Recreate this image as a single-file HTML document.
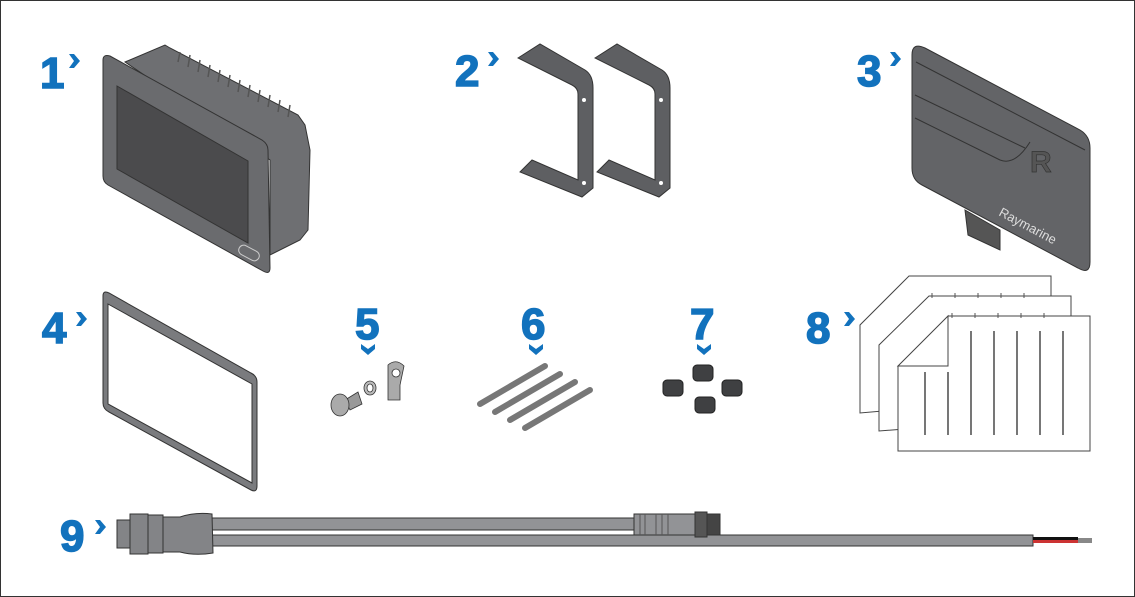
<!DOCTYPE html>
<html><head><style>
html,body{margin:0;padding:0;background:#fff}
svg{display:block}
.n{font-family:"Liberation Sans",sans-serif;font-weight:bold;font-size:44px;fill:#1272bd;stroke:#1272bd;stroke-width:1.5}
</style></head><body>
<svg width="1135" height="597" viewBox="0 0 1135 597" xmlns="http://www.w3.org/2000/svg">
<rect x="0.5" y="0.5" width="1134" height="596" fill="#fff" stroke="#333" stroke-width="1"/>
<defs>
<path id="chr" d="M0,0 L5,0 L11,7 L5,14 L0,14 L5,7 Z" fill="#1272bd"/>
<path id="chd" d="M0,0 L0,5 L7,11 L14,5 L14,0 L7,5 Z" fill="#1272bd"/>
</defs>
<!-- labels -->
<text class="n" x="40" y="88">1</text><use href="#chr" x="69" y="54"/>
<text class="n" x="455" y="86">2</text><use href="#chr" x="488" y="52"/>
<text class="n" x="857" y="86">3</text><use href="#chr" x="890" y="52"/>
<text class="n" x="42" y="343">4</text><use href="#chr" x="76" y="312"/>
<text class="n" x="355" y="339">5</text><use href="#chd" x="361" y="344"/>
<text class="n" x="521" y="339">6</text><use href="#chd" x="529" y="344"/>
<text class="n" x="690" y="339">7</text><use href="#chd" x="697" y="344"/>
<text class="n" x="806" y="343">8</text><use href="#chr" x="844" y="312"/>
<text class="n" x="60" y="551">9</text><use href="#chr" x="95" y="520"/>

<!-- item 1 display -->
<g stroke="#333" stroke-width="1">
<path d="M125,62 L165,45 L170,48 L298,115 L305,125 L310,150 L308,230 L300,240 L270,255 L270,160 Z" fill="#6e6f72"/>
<path d="M103,60 Q103,54 110,56 L262,140 Q268,144 268,150 L270,268 Q270,275 263,271 L108,185 Q103,182 103,176 Z" fill="#6a6b6e"/>
<path d="M117,86 L248,161 L248,243 L117,169 Z" fill="#4b4b4d"/>
<rect x="238" y="248" width="22" height="10" rx="5" fill="none" stroke="#ccc" transform="rotate(28 249 253)"/>
</g>
<g stroke="#555" stroke-width="1.5">
<path d="M180,52 L178,62 M190,55 L188,67 M200,60 L198,72 M210,65 L208,77 M220,70 L218,82 M230,75 L228,87 M240,80 L238,92 M250,85 L248,97 M260,90 L258,102 M270,95 L268,107 M280,100 L278,112 M290,105 L288,117"/>
</g>

<!-- item 2 brackets -->
<g fill="#5e5f62" stroke="#333" stroke-width="1">
<path d="M518,58 L540,44 L585,70 Q593,75 593,88 L593,188 L582,197 L520,172 L532,160 L578,180 L578,94 Q578,88 572,85 Z"/>
<path d="M595,58 L617,44 L662,70 Q670,75 670,88 L670,188 L659,197 L597,172 L609,160 L655,180 L655,94 Q655,88 649,85 Z"/>
</g>
<circle cx="584" cy="100" r="2" fill="#fff"/><circle cx="584" cy="183" r="2" fill="#fff"/>
<circle cx="661" cy="100" r="2" fill="#fff"/><circle cx="661" cy="183" r="2" fill="#fff"/>

<!-- item 3 sun cover -->
<g stroke="#333" stroke-width="1">
<path d="M965,210 L1000,230 L1000,250 L968,235 Z" fill="#555"/>
<path d="M912,55 Q912,42 925,48 L1080,130 Q1090,136 1090,148 L1090,262 Q1090,275 1078,268 L922,185 Q912,180 912,168 Z" fill="#636467"/>
<path d="M916,62 L1085,150 M915,95 L1025,148 M915,118 L1000,160 Q1015,166 1030,142" stroke="#333" fill="none"/>
</g>
<text x="1030" y="172" font-family="Liberation Sans,sans-serif" font-weight="bold" font-size="30" fill="#555" stroke="#333" stroke-width="0.7">R</text>
<text x="998" y="215" font-family="Liberation Sans,sans-serif" font-size="13" fill="#ddd" transform="rotate(28 998 215)">Raymarine</text>

<!-- item 4 gasket -->
<path d="M103,296 Q103,290 109,293 L251,373 Q257,376 257,382 L257,486 Q257,493 251,490 L109,412 Q103,409 103,403 Z M108,304 L252,384 L252,483 L108,404 Z" fill="#7a7b7e" fill-rule="evenodd" stroke="#333"/>

<!-- item 5 -->
<g stroke="#333" stroke-width="0.8">
<path d="M345,400 L358,392 L362,404 L350,410 Z" fill="#999"/>
<ellipse cx="340" cy="405" rx="9" ry="11" fill="#aaa"/>
<ellipse cx="370" cy="388" rx="6" ry="7" fill="#bbb"/>
<ellipse cx="370" cy="388" rx="3" ry="4" fill="#fff"/>
<path d="M388,390 L388,365 Q396,358 404,366 L400,385 L400,400 L388,400 Z" fill="#aaa"/>
<circle cx="396" cy="373" r="4" fill="#fff"/>
</g>

<!-- item 6 rods -->
<g stroke="#777" stroke-width="6" stroke-linecap="round">
<line x1="480" y1="404" x2="545" y2="366"/>
<line x1="495" y1="412" x2="560" y2="374"/>
<line x1="510" y1="420" x2="575" y2="382"/>
<line x1="525" y1="428" x2="590" y2="390"/>
</g>

<!-- item 7 nuts -->
<g fill="#3f4042" stroke="#222">
<rect x="693" y="365" width="20" height="16" rx="4"/>
<rect x="663" y="380" width="20" height="16" rx="4"/>
<rect x="722" y="380" width="20" height="16" rx="4"/>
<rect x="695" y="397" width="20" height="16" rx="4"/>
</g>

<!-- item 8 papers -->
<g fill="#fff" stroke="#444" stroke-width="1">
<path d="M909,276 L1051,276 L1051,396 L860,413 L860,325 Z"/>
<path d="M929,296 L1071,296 L1071,416 L879,431 L879,345 Z"/>
<path d="M948,316 L1090,316 L1090,451 L898,451 L898,366 L948,366 Z"/>
<path d="M898,366 L948,316 L948,366 Z" fill="#fff"/>
</g>
<g stroke="#555" stroke-width="1.6">
<path d="M925,372 V435 M948,372 V435 M971,331 V435 M994,331 V435 M1017,331 V435 M1040,331 V435 M1063,331 V435"/>
<path d="M952,313 V318 M975,313 V318 M998,313 V318 M1021,313 V318 M1044,313 V318 M932,293 V298 M955,293 V298 M978,293 V298 M1001,293 V298 M1024,293 V298" stroke-width="1"/>
</g>

<!-- item 9 cable -->
<g stroke="#333" stroke-width="1">
<rect x="212" y="518" width="425" height="12" fill="#929396"/>
<rect x="212" y="535" width="821" height="11" fill="#929396"/>
<rect x="117" y="520" width="14" height="28" fill="#838487"/>
<rect x="130" y="514" width="18" height="40" fill="#838487"/>
<rect x="148" y="515" width="15" height="38" fill="#838487"/>
<path d="M163,517 L180,517 Q195,512 212,514 L213,553 Q195,556 180,552 L163,552 Z" fill="#838487"/>
<rect x="634" y="514" width="61" height="21" fill="#929396"/>
<path d="M640,514 V535 M645,514 V535 M656,514 V535 M662,514 V535 M668,514 V535" stroke="#555"/>
<rect x="695" y="512" width="12" height="25" fill="#555"/>
<rect x="707" y="514" width="13" height="21" fill="#444"/>
</g>
<rect x="1033" y="537" width="45" height="3" fill="#111"/>
<rect x="1033" y="540" width="45" height="3" fill="#c33"/>
<rect x="1078" y="538" width="14" height="5" fill="#888"/>
</svg>
</body></html>
